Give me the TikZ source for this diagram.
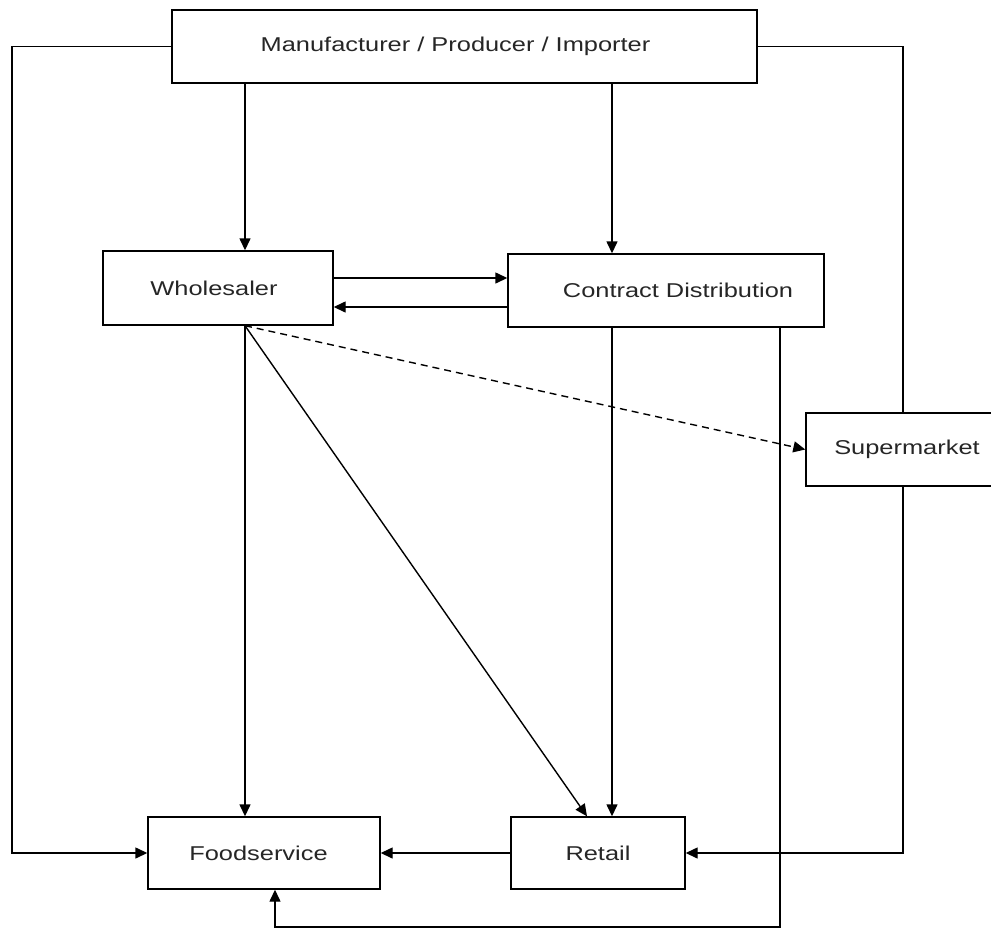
\documentclass[tikz,border=0pt]{standalone}
\usepackage{fontspec}
\setmainfont{Liberation Sans}[FakeStretch=1.27]
\usetikzlibrary{arrows.meta}
\begin{document}
\begin{tikzpicture}[x=1pt,y=-1pt,
  box/.style={draw,line width=1.4pt,rectangle,inner sep=0pt,text=black!85,font=\fontsize{20}{22}\selectfont},
  conn/.style={line width=1.4pt},
  arr/.style={conn,-{Triangle[length=12pt,width=11pt]}}]
\useasboundingbox (0,0) rectangle (991,929);
\node[box,minimum width=585pt,minimum height=73pt] (mfr) at (464.5,46.5) {Manufacturer / Producer / Importer\hspace*{18pt}};
\node[box,minimum width=230pt,minimum height=74pt] (whole) at (218,288) {Wholesaler\hspace*{8pt}};
\node[box,minimum width=316pt,minimum height=73pt] (cd) at (666,290.5) {\hspace*{24pt}Contract Distribution};
\node[box,minimum width=202pt,minimum height=73pt] (super) at (907,449.5) {Supermarket};
\node[box,minimum width=232pt,minimum height=72pt] (food) at (264,853) {Foodservice\hspace*{11pt}};
\node[box,minimum width=174pt,minimum height=72pt] (retail) at (598,853) {Retail};
\coordinate (xa) at (245,0);
\coordinate (xb) at (612,0);
\coordinate (xc) at (780,0);
\coordinate (xd) at (903,0);
\coordinate (xe) at (275,0);
\coordinate (ya) at (0,278);
\coordinate (yb) at (0,307);
\coordinate (lc) at (12,853);
\coordinate (bc) at (780,927);
\coordinate (rx) at (587,0);
% manufacturer links
\draw[arr] (mfr.west) -| (lc) -- (food.west);
\draw[conn] (mfr.east) -| (super.north -| xd);
\draw[arr] (super.south -| xd) |- (retail.east);
\draw[arr] (mfr.south -| xa) -- (whole.north -| xa);
\draw[arr] (mfr.south -| xb) -- (cd.north -| xb);
% wholesaler <-> contract distribution
\draw[arr] (whole.east |- ya) -- (cd.west |- ya);
\draw[arr] (cd.west |- yb) -- (whole.east |- yb);
% wholesaler outputs
\draw[arr,dashed,dash pattern=on 7pt off 5pt] (whole.south -| xa) -- (super.west);
\draw[arr] (whole.south -| xa) -- (food.north -| xa);
\draw[arr] (whole.south -| xa) -- (retail.north -| rx);
% contract distribution outputs
\draw[arr] (cd.south -| xb) -- (retail.north -| xb);
\draw[arr] (cd.south -| xc) -- (bc) -| (food.south -| xe);
% retail to foodservice
\draw[arr] (retail.west) -- (food.east);
\end{tikzpicture}
\end{document}
